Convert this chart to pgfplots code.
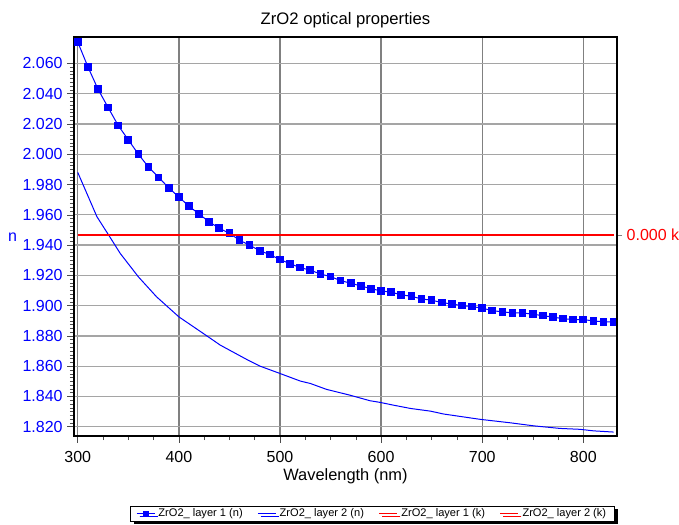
\documentclass[border=0pt]{standalone}
\usepackage{pgfplots}
\pgfplotsset{compat=1.18}
\usepackage{pgfplotstable}
\usepackage{fontspec}
\setmainfont{Liberation Sans}
\usetikzlibrary{shadows}

\definecolor{nblue}{RGB}{0,0,255}
\definecolor{kred}{RGB}{255,0,0}
\definecolor{gridv}{RGB}{128,128,128}
\definecolor{gridh}{RGB}{165,165,165}

% layer 1, n (with markers)
\pgfplotstableread{
wl n
300 2.0741
310 2.0578
320 2.0430
330 2.0309
340 2.0190
350 2.0095
360 2.0000
370 1.9915
380 1.9847
390 1.9778
400 1.9717
410 1.9657
420 1.9605
430 1.9553
440 1.9511
450 1.9478
460 1.9432
470 1.9399
480 1.9363
490 1.9337
500 1.9304
510 1.9277
520 1.9251
530 1.9234
540 1.9209
550 1.9192
560 1.9165
570 1.9148
580 1.9130
590 1.9112
600 1.9097
610 1.9089
620 1.9071
630 1.9062
640 1.9044
650 1.9036
660 1.9020
670 1.9011
680 1.9000
690 1.8994
700 1.8983
710 1.8967
720 1.8959
730 1.8952
740 1.8952
750 1.8943
760 1.8934
770 1.8924
780 1.8914
790 1.8908
800 1.8908
810 1.8899
820 1.8893
830 1.8893
}\layerone

% layer 2, n
\pgfplotstableread{
wl n
300 1.9880
319 1.9587
332 1.9451
342 1.9345
360 1.9190
378 1.9058
400 1.8926
424 1.8817
441 1.8739
467 1.8645
480 1.8601
500 1.8552
520 1.8502
530 1.8486
546 1.8447
569 1.8409
589 1.8372
599 1.8361
612 1.8343
629 1.8321
649 1.8303
662 1.8284
698 1.8249
728 1.8226
751 1.8206
777 1.8189
797 1.8183
810 1.8173
830 1.8165
}\layertwo

\pgfplotsset{
  common/.style={
    width=407.25pt, height=299pt, scale only axis,
    xmin=296.3, xmax=833.3,
    axis line style={line width=1.4pt},
    tick align=outside,
    /pgf/number format/assume math mode=true,
    tick label style={font=\fontsize{12}{14}\selectfont},
  },
  nonestyle/.style={nblue, line width=0.75pt, mark=square*, mark size=2.5pt,
    mark options={fill=nblue, draw=nblue}},
}

\begin{document}
\begin{tikzpicture}
\begin{axis}[
    common,
    ymin=1.8139, ymax=2.0772,
    xtick={300,400,500,600,700,800},
    ytick={1.82,1.84,1.86,1.88,1.90,1.92,1.94,1.96,1.98,2.00,2.02,2.04,2.06},
    minor x tick num=3,
    minor y tick num=7,
    xtick pos=bottom, ytick pos=left,
    major tick length=5pt, minor tick length=3pt,
    every tick/.style={black!70},
    xmajorgrids=true, ymajorgrids=true,
    major x grid style={gridv, line width=1pt},
    major y grid style={gridh, line width=1pt},
    yticklabel style={nblue, anchor=east,
      /pgf/number format/fixed, /pgf/number format/fixed zerofill,
      /pgf/number format/precision=3},
    xticklabel style={anchor=base, yshift=-14.8pt},
    title={ZrO2 optical properties},
    title style={at={(axis description cs:0.5,1)}, anchor=base, yshift=3.3pt,
      font=\fontsize{12.5}{15}\selectfont},
    xlabel={Wavelength (nm)},
    xlabel style={at={(axis description cs:0.5,0)}, anchor=base, yshift=-33.5pt,
      font=\fontsize{12.3}{14}\selectfont},
    ylabel={n},
    ylabel style={at={(axis description cs:0,0)}, rotate=-90, anchor=base,
      xshift=-46.1pt, yshift=145.7pt, nblue, font=\fontsize{12}{14}\selectfont},
]
\addplot[nonestyle] table[x=wl, y=n] {\layerone};
\addplot[nblue, line width=0.75pt] table[x=wl, y=n] {\layertwo};
\end{axis}

\begin{axis}[
    common,
    ymin=-0.504, ymax=0.496,
    hide x axis,
    axis y line*=right,
    ytick={0}, yticklabels={0.000 k},
    major tick length=3.75pt,
    every tick/.style={black!50},
    yticklabel style={kred, anchor=west, font=\fontsize{12}{14}\selectfont},
    legend columns=4,
    legend style={
      at={(axis description cs:0.5503,-0.195)}, anchor=center,
      draw=black, line width=0.6pt, fill=white,
      inner xsep=4pt, inner ysep=0.5pt,
      nodes={inner ysep=1.2pt, inner xsep=2.5pt},
      font=\fontsize{8.3}{10}\selectfont,
      drop shadow={shadow xshift=2.25pt, shadow yshift=-2.25pt, fill=black, opacity=1},
      /tikz/every even column/.append style={column sep=8.5pt},
    },
    legend image code/.code={
      \draw[mark repeat=2, mark phase=2, #1] plot coordinates {(0pt,0pt) (6.75pt,0pt) (13.5pt,0pt)};
    },
]
\addlegendimage{nblue, line width=0.75pt, mark=square*, mark size=1.8pt, mark options={fill=nblue}}
\addlegendentry{ZrO2\_ layer 1 (n)}
\addlegendimage{nblue, line width=0.75pt}
\addlegendentry{ZrO2\_ layer 2 (n)}
\addplot[kred, line width=1.1pt] coordinates {(300,0) (830,0)};
\addlegendentry{ZrO2\_ layer 1 (k)}
\addplot[kred, line width=1.1pt] coordinates {(300,0) (830,0)};
\addlegendentry{ZrO2\_ layer 2 (k)}
\end{axis}

\pgfresetboundingbox
\path[use as bounding box] (-55.5pt,-66.75pt) rectangle (453.75pt,327pt);
\end{tikzpicture}
\end{document}
